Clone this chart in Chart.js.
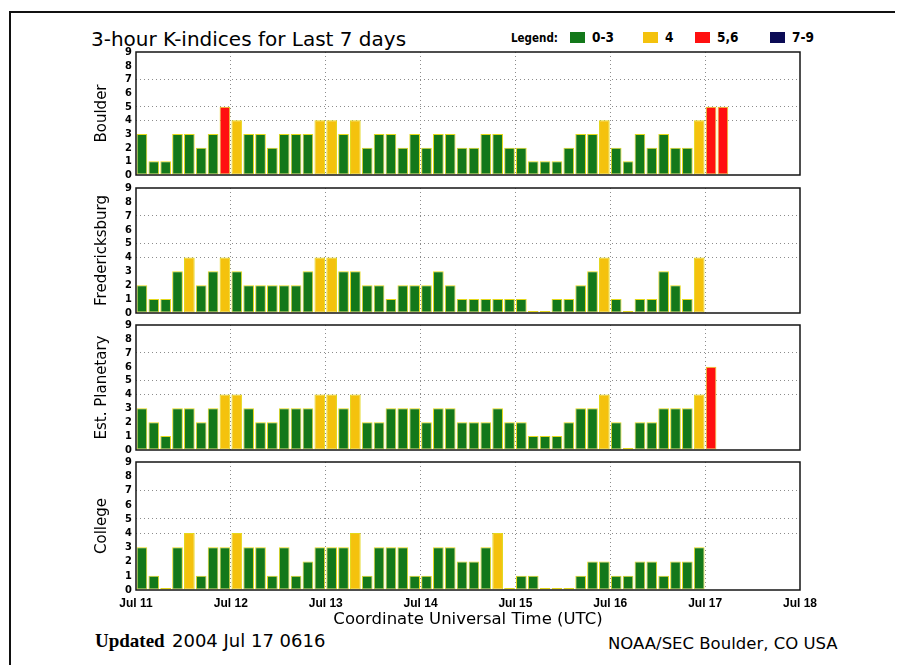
<!DOCTYPE html>
<html>
<head>
<meta charset="utf-8">
<script src="https://cdn.jsdelivr.net/npm/chart.js@4.4.1/dist/chart.umd.min.js"></script>
<style>
  html, body { margin: 0; padding: 0; background: #fff; }
  body { width: 906px; height: 665px; position: relative; overflow: hidden; font-family: "DejaVu Sans", sans-serif; color: #000; }
  canvas { position: absolute; left: 0; top: 0; }
  .line { position: absolute; background: #111; }
  .txt { position: absolute; white-space: nowrap; line-height: 1; }
  .box { position: absolute; width: 15px; height: 11px; }
</style>
</head>
<body>
<div class="line" style="left:9px; top:11px; width:886px; height:2px;"></div>
<div class="line" style="left:9px; top:11px; width:2px; height:654px;"></div>
<div class="txt" id="title" style="left:91px; top:29px; font-size:20px;"></div>
<div id="legend"></div>
<div class="txt" style="left:95px; top:631px; font-size:19px; font-family:'Liberation Serif', serif; font-weight:bold;">Updated</div>
<div class="txt" id="updated" style="left:172px; top:632px; font-size:18px;"></div>
<div class="txt" id="credit" style="left:608px; top:636px; font-size:16.5px;"></div>
<script>
// ---------- data ----------
const chartTitle = '3-hour K-indices for Last 7 days';
const dayLabels = ['Jul 11', 'Jul 12', 'Jul 13', 'Jul 14', 'Jul 15', 'Jul 16', 'Jul 17', 'Jul 18'];
const stations = ['Boulder', 'Fredericksburg', 'Est. Planetary', 'College'];
const classLabels = ['0-3', '4', '5,6', '7-9'];
const classMax = [3, 4, 6, 9];
const yTicks = [0, 1, 2, 3, 4, 5, 6, 7, 8, 9];
const gridLevels = [4, 5, 7];
const boulder = [3,1,1,3,3,2,3,5, 4,3,3,2,3,3,3,4, 4,3,4,2,3,3,2,3, 2,3,3,2,2,3,3,2, 2,1,1,1,2,3,3,4, 2,1,3,2,3,2,2,4, 5,5];
const fredericksburg = [2,1,1,3,4,2,3,4, 3,2,2,2,2,2,3,4, 4,3,3,2,2,1,2,2, 2,3,2,1,1,1,1,1, 1,0,0,1,1,2,3,4, 1,0,1,1,3,2,1,4];
const planetary = [3,2,1,3,3,2,3,4, 4,3,2,2,3,3,3,4, 4,3,4,2,2,3,3,3, 2,3,3,2,2,2,3,2, 2,1,1,1,2,3,3,4, 2,0,2,2,3,3,3,4, 6];
const college = [3,1,0,3,4,1,3,3, 4,3,3,1,3,1,2,3, 3,3,4,1,3,3,3,1, 1,3,3,2,2,3,4,0, 1,1,0,0,0,1,2,2, 1,1,2,2,1,2,2,3];
const xAxisTitle = 'Coordinate Universal Time (UTC)';
const updatedText = '2004 Jul 17 0616';
const creditText = 'NOAA/SEC Boulder, CO USA';

// ---------- styles / layout ----------
const series = [boulder, fredericksburg, planetary, college];
const classColors = ['#13781a', '#f4c20d', '#ff1010', '#0b0b55'];
const panelTops = [52, 188, 325, 462];
const panelBottoms = [175, 313, 450, 590];
const plotLeft = 136, plotRight = 800, yAxisW = 46, xAxisH = 40;
const W = 906, H = 665;
const hoursPerBar = 3, hoursPerDay = 24;

document.getElementById('title').textContent = chartTitle;
document.getElementById('updated').textContent = updatedText;
document.getElementById('credit').textContent = creditText;

// legend
const legendDiv = document.getElementById('legend');
const lg = document.createElement('div');
lg.className = 'txt';
lg.style.cssText = 'left:511px; top:33px; font-size:11.5px; font-weight:bold; font-family:"DejaVu Sans Condensed", sans-serif;';
lg.textContent = 'Legend:';
legendDiv.appendChild(lg);
const legendBoxX = [570, 643, 695, 770];
classLabels.forEach((lab, c) => {
  const b = document.createElement('div');
  b.className = 'box';
  b.style.left = legendBoxX[c] + 'px';
  b.style.top = '32px';
  b.style.background = classColors[c];
  legendDiv.appendChild(b);
  const t = document.createElement('div');
  t.className = 'txt';
  t.style.cssText = 'top:31px; font-size:13.5px; font-weight:bold; font-family:"DejaVu Sans Condensed", sans-serif;';
  t.style.left = (legendBoxX[c] + 22) + 'px';
  t.textContent = lab;
  legendDiv.appendChild(t);
});

function classOf(v) {
  for (let c = 0; c < classMax.length; c++) if (v <= classMax[c]) return c;
  return classMax.length - 1;
}

const framePlugin = {
  id: 'frame',
  afterDraw(chart) {
    const { ctx, chartArea: a } = chart;
    ctx.save();
    ctx.strokeStyle = '#151515';
    ctx.lineWidth = 1.5;
    ctx.strokeRect(a.left, a.top, a.right - a.left, a.bottom - a.top);
    ctx.restore();
  }
};

const totalHours = (dayLabels.length - 1) * hoursPerDay;

series.forEach((vals, i) => {
  const isLast = i === series.length - 1;
  const cv = document.createElement('canvas');
  cv.width = W; cv.height = H;
  document.body.appendChild(cv);
  const datasets = classLabels.map((lab, c) => ({
    label: lab,
    data: vals.map((v, j) => ({ x: j * hoursPerBar + hoursPerBar / 2, y: v })).filter(p => classOf(p.y) === c),
    backgroundColor: classColors[c],
    borderColor: '#e4d81c',
    borderWidth: 1,
    borderSkipped: false,
    grouped: false,
    barPercentage: 0.9,
    categoryPercentage: 1,
    minBarLength: 2
  }));
  new Chart(cv, {
    type: 'bar',
    data: { datasets },
    plugins: [framePlugin],
    options: {
      responsive: false,
      animation: false,
      devicePixelRatio: 1,
      layout: { padding: { left: plotLeft - yAxisW, right: W - plotRight, top: panelTops[i], bottom: H - panelBottoms[i] - (isLast ? xAxisH : 0) } },
      plugins: { legend: { display: false }, tooltip: { enabled: false } },
      scales: {
        x: {
          type: 'linear', min: 0, max: totalHours, offset: false,
          afterFit: s => { s.height = isLast ? xAxisH : 0; },
          border: { display: false, dash: [1, 3] },
          grid: {
            offset: false, drawTicks: false, lineWidth: 1,
            color: c => (c.tick && c.tick.value > 0 && c.tick.value < totalHours) ? '#8c8c8c' : 'rgba(0,0,0,0)'
          },
          ticks: {
            display: isLast, stepSize: hoursPerDay, autoSkip: false, maxRotation: 0, padding: 6,
            color: '#000', font: { family: 'Liberation Sans', size: 12, weight: 'bold' },
            callback: v => dayLabels[Math.round(v / hoursPerDay)]
          },
          title: {
            display: isLast, text: xAxisTitle, color: '#000',
            font: { family: 'DejaVu Sans', size: 16.5 }, padding: { top: 0, bottom: 0 }
          }
        },
        y: {
          min: 0, max: 9,
          afterFit: s => { s.width = yAxisW; },
          afterBuildTicks: s => { s.ticks = yTicks.map(v => ({ value: v })); },
          border: { display: false, dash: [1, 3] },
          grid: {
            drawTicks: false, lineWidth: 1,
            color: c => (c.tick && gridLevels.includes(c.tick.value)) ? '#8c8c8c' : 'rgba(0,0,0,0)'
          },
          ticks: {
            autoSkip: false, padding: 4, color: '#000',
            font: { family: 'DejaVu Sans Condensed', size: 11, weight: 'bold' }
          },
          title: {
            display: true, text: stations[i], color: '#000',
            font: { family: 'DejaVu Sans', size: 15 }, padding: { top: 3, bottom: 0 }
          }
        }
      }
    }
  });
});
</script>
</body>
</html>
